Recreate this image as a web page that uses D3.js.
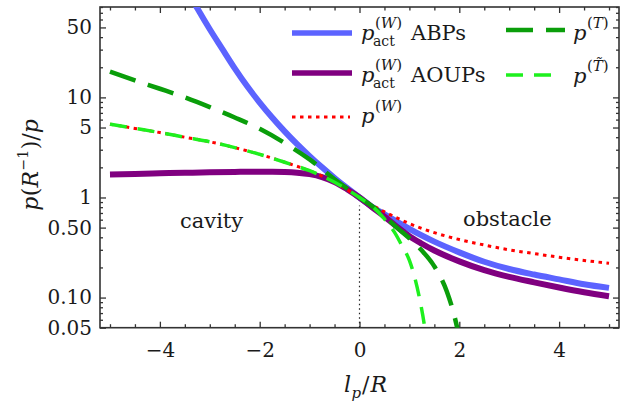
<!DOCTYPE html>
<html><head><meta charset="utf-8">
<script src="https://cdn.jsdelivr.net/npm/d3@7"></script>
<style>
body{margin:0;background:#fff}
svg{display:block}
text{font-family:"DejaVu Serif",serif;fill:#1a1a1a}
</style>
</head><body>
<svg id="c" width="630" height="401"></svg>
<script>
// ---- data ----
const abpX  = [-3.5,-3.25,-3,-2.75,-2.5,-2.25,-2,-1.75,-1.5,-1.25,-1,-0.75,-0.5,-0.25,0,0.25,0.5,0.75,1,1.5,2,2.5,3,3.5,4,4.5,5];
const abpY  = [129,77.6,47.9,30.5,19.5,12.9,8.89,6.30,4.58,3.41,2.59,2.0,1.567,1.245,1,0.81,0.68,0.575,0.485,0.362,0.283,0.228,0.193,0.17,0.152,0.136,0.125];
const aoupX = [-5,-4.5,-4,-3.5,-3,-2.5,-2,-1.75,-1.5,-1.25,-1,-0.75,-0.5,-0.25,0,0.25,0.5,0.75,1,1.25,1.5,2,2.5,3,3.5,4,4.5,5];
const aoupY = [1.70,1.72,1.745,1.765,1.785,1.80,1.81,1.81,1.80,1.77,1.71,1.60,1.43,1.21,1,0.80,0.645,0.51,0.41,0.345,0.295,0.23,0.188,0.161,0.142,0.126,0.113,0.103];
const pwX   = [-5,-4.5,-4,-3.5,-3,-2.5,-2,-1.5,-1,-0.5,0,0.25,0.5,0.75,1,1.5,2,2.5,3,3.5,4,4.5,5];
const pwY   = [5.4,4.9,4.45,4.0,3.6,3.15,2.7,2.25,1.85,1.42,1,0.84,0.72,0.625,0.548,0.445,0.38,0.335,0.30,0.275,0.253,0.235,0.22];
const ptX   = [-5,-4.5,-4,-3.5,-3,-2.5,-2,-1.5,-1,-0.5,0,0.25,0.5,0.75,1,1.25,1.5,1.75,1.9,2.0];
const ptY   = [18.1,14.8,12.2,10.0,8.0,6.3,4.85,3.5,2.4,1.52,1,0.82,0.65,0.50,0.39,0.295,0.205,0.115,0.066,0.04];
const pttX  = [-5,-4.5,-4,-3.5,-3,-2.5,-2,-1.5,-1,-0.5,0,0.25,0.5,0.7,0.85,1.0,1.1,1.2,1.3,1.4];
const pttY  = [5.4,4.9,4.45,4.0,3.6,3.15,2.7,2.25,1.85,1.42,1,0.82,0.61,0.45,0.33,0.235,0.163,0.100,0.053,0.022];

const xTickVals   = [-4,-2,0,2,4];
const xTickLabels = ["\u22124","\u22122","0","2","4"];
const xMinorVals  = [-5,-4.5,-3.5,-3,-2.5,-1.5,-1,-0.5,0.5,1,1.5,2.5,3,3.5,4.5,5];
const yTickVals   = [0.05,0.1,0.5,1,5,10,50];
const yTickLabels = ["0.05","0.10","0.50","1","5","10","50"];
const yMinorVals  = [0.06,0.07,0.08,0.09,0.2,0.3,0.4,0.6,0.7,0.8,0.9,2,3,4,6,7,8,9,20,30,40,60,70,80];
const regionLabels = ["cavity","obstacle"];
const seriesNames  = ["ABPs","AOUPs"];

// ---- layout ----
const svg = d3.select("#c");
const L = 100, R = 619, T = 7, B = 327.7;
const x = d3.scaleLinear().domain([-5.2,5.2]).range([L,R]);
const y = d3.scaleLog().domain([0.05,80]).range([B,T]);
const frameCol = "#333";

svg.append("defs").append("clipPath").attr("id","clip")
  .append("rect").attr("x",L).attr("y",T).attr("width",R-L).attr("height",B-T);

// ---- axes ----
function styleAxis(g){
  g.select(".domain").remove();
  g.selectAll(".tick line").attr("stroke",frameCol).attr("stroke-width",1.3);
  g.selectAll(".tick text").style("font-family","'DejaVu Serif',serif").style("font-size","20px").attr("fill","#1a1a1a");
}
const fmtX = (d)=> xTickLabels[xTickVals.indexOf(d)];
const fmtY = (d)=> yTickLabels[yTickVals.indexOf(d)];

svg.append("g").attr("transform",`translate(0,${B})`)
  .call(d3.axisBottom(x).tickValues(xTickVals).tickFormat(fmtX).tickSize(-6).tickPadding(15)).call(styleAxis);
svg.append("g").attr("transform",`translate(0,${B})`)
  .call(d3.axisBottom(x).tickValues(xMinorVals).tickFormat("").tickSize(-3.5)).call(styleAxis);
svg.append("g").attr("transform",`translate(0,${T})`)
  .call(d3.axisTop(x).tickValues(xTickVals).tickFormat("").tickSize(-6)).call(styleAxis);
svg.append("g").attr("transform",`translate(0,${T})`)
  .call(d3.axisTop(x).tickValues(xMinorVals).tickFormat("").tickSize(-3.5)).call(styleAxis);

svg.append("g").attr("transform",`translate(${L},0)`)
  .call(d3.axisLeft(y).tickValues(yTickVals).tickFormat(fmtY).tickSize(-6).tickPadding(8)).call(styleAxis);
svg.append("g").attr("transform",`translate(${L},0)`)
  .call(d3.axisLeft(y).tickValues(yMinorVals).tickFormat("").tickSize(-3)).call(styleAxis);
svg.append("g").attr("transform",`translate(${R},0)`)
  .call(d3.axisRight(y).tickValues(yTickVals).tickFormat("").tickSize(-6)).call(styleAxis);
svg.append("g").attr("transform",`translate(${R},0)`)
  .call(d3.axisRight(y).tickValues(yMinorVals).tickFormat("").tickSize(-3)).call(styleAxis);

// frame
svg.append("rect").attr("x",L).attr("y",T).attr("width",R-L).attr("height",B-T)
  .attr("fill","none").attr("stroke",frameCol).attr("stroke-width",1.6);

// dotted x=0 line
svg.append("line").attr("x1",x(0)).attr("x2",x(0)).attr("y1",y(0.05)).attr("y2",y(0.83))
  .attr("stroke","#222").attr("stroke-width",1.2).attr("stroke-dasharray","1.5,3");

// ---- curves ----
const series = [
  {xs:abpX,  ys:abpY,  color:"#5c63ff", w:6,   dash:null},
  {xs:aoupX, ys:aoupY, color:"#800080", w:6,   dash:null},
  {xs:pwX,   ys:pwY,   color:"#ff0000", w:3,   dash:"3.5,4.5"},
  {xs:ptX,   ys:ptY,   color:"#0a9e0a", w:4.5, dash:"27,13"},
  {xs:pttX,  ys:pttY,  color:"#1ef01e", w:3.5, dash:"17,11"}
];
const line = d3.line().x(d=>x(d[0])).y(d=>y(d[1])).curve(d3.curveMonotoneX);
const cg = svg.append("g").attr("clip-path","url(#clip)");
series.forEach(s=>{
  const pts = s.xs.map((v,i)=>[v,s.ys[i]]);
  cg.append("path").datum(pts).attr("d",line).attr("fill","none")
    .attr("stroke",s.color).attr("stroke-width",s.w)
    .attr("stroke-dasharray",s.dash).attr("stroke-linecap","butt");
});

// ---- rich text helper ----
function rich(g, x0, y0, runs){
  let cx = x0;
  runs.forEach(r=>{
    const t = g.append("text").attr("x",cx).attr("y",y0+(r.dy||0))
      .style("font-size",(r.s||21)+"px")
      .style("font-style",r.i?"italic":"normal")
      .text(r.t);
    const w = t.node().getComputedTextLength();
    cx = cx + w + (r.gap||0);
  });
  return cx;
}

// region labels
svg.append("text").attr("x",180).attr("y",228).style("font-size","21px").text(regionLabels[0]);
svg.append("text").attr("x",463).attr("y",226).style("font-size","21px").text(regionLabels[1]);

// x label
const xl = svg.append("g");
rich(xl, 0, 0, [{t:"l",i:true,s:22,gap:0.5},{t:"p",i:true,s:15,dy:6,gap:1},{t:"/",s:22,gap:1},{t:"R",i:true,s:22}]);
const xb = xl.node().getBBox();
xl.attr("transform",`translate(${x(0)+6-xb.width/2-xb.x},392)`);

// y label
const yl = svg.append("g");
const yin = yl.append("g");
rich(yin, 0, 0, [{t:"p",i:true,s:22,gap:0.5},{t:"(",s:22},{t:"R",i:true,s:22,gap:0.5},{t:"\u22121",s:14,dy:-10,gap:0.5},{t:")/",s:22},{t:"p",i:true,s:22}]);
const yb = yin.node().getBBox();
yin.attr("transform",`translate(${-yb.width/2-yb.x},0)`);
yl.attr("transform","translate(38,165) rotate(-90)");

// ---- legend ----
const lg = svg.append("g");
const legendRows = [
  {x1:292,x2:352,y:33, color:"#5c63ff", w:5.5, dash:null},
  {x1:292,x2:352,y:73, color:"#800080", w:5.5, dash:null},
  {x1:292,x2:350,y:117,color:"#ff0000", w:3,   dash:"3.5,4.5"},
  {x1:506,x2:565,y:30, color:"#0a9e0a", w:4.5, dash:"27,13"},
  {x1:506,x2:560,y:75, color:"#1ef01e", w:3.5, dash:"17,11"}
];
legendRows.forEach(r=>{
  lg.append("line").attr("x1",r.x1).attr("x2",r.x2).attr("y1",r.y).attr("y2",r.y)
    .attr("stroke",r.color).attr("stroke-width",r.w).attr("stroke-dasharray",r.dash);
});
function supLabel(x0, yb, sym){
  return rich(lg, x0, yb, [
    {t:"p",i:true,s:21,gap:0.5},
    {t:"(",s:15,dy:-12},{t:sym,i:true,s:15,dy:-12},{t:")",s:15,dy:-12}
  ]);
}
function pAct(yb, name){
  supLabel(361, yb, "W");
  lg.append("text").attr("x",373).attr("y",yb+6).style("font-size","14px").text("act");
  lg.append("text").attr("x",411).attr("y",yb).style("font-size","21px").text(name);
}
pAct(40, seriesNames[0]);
pAct(82, seriesNames[1]);
supLabel(361, 123, "W");
supLabel(573, 40, "T");
supLabel(573, 83, "T\u0303");
</script>
</body></html>
